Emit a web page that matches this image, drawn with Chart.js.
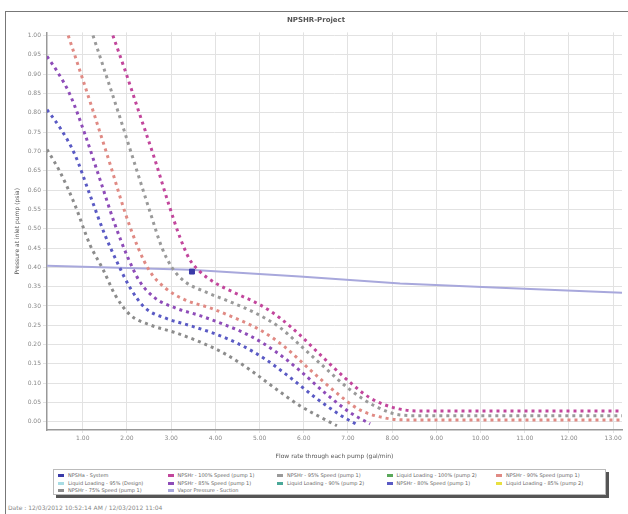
<!DOCTYPE html>
<html>
<head>
<meta charset="utf-8">
<title>NPSHR-Project</title>
<script src="https://cdn.jsdelivr.net/npm/chart.js@4/dist/chart.umd.min.js"></script>
<style>
  body { margin: 0; background: #fff; font-family: "DejaVu Sans", sans-serif; }
  #wrap { position: relative; width: 628px; height: 514px; overflow: hidden; }
  #frame { position: absolute; left: 5px; top: 11px; width: 700px; height: 600px; border-left: 1px solid #777; border-top: 1px solid #777; }
  #c { position: absolute; left: 0; top: 0; }
  #legend { position: absolute; left: 53px; top: 469px; width: 544px; height: 22px; padding: 2px 3px 0 4px;
    border: 1px solid #bbb; box-shadow: 3px 3px 0 #555; background: #fff;
    display: grid; grid-template-columns: repeat(5, 109.5px); grid-auto-rows: 7.5px; }
  #legend div { white-space: nowrap; overflow: hidden; font-size: 5px; line-height: 7.5px; color: #666; }
  #legend span { display: inline-block; width: 6px; height: 3px; margin-right: 4px; vertical-align: middle; }
  #footer { position: absolute; left: 8px; top: 504px; font-size: 6px; color: #888; white-space: nowrap; }
</style>
</head>
<body>
<div id="wrap">
  <div id="frame"></div>
  <canvas id="c" width="628" height="460"></canvas>
  <div id="legend"></div>
  <div id="footer">Date : 12/03/2012 10:52:14 AM / 12/03/2012 11:04</div>
</div>
<script>
const titleText = 'NPSHR-Project';
const xTitle = 'Flow rate through each pump (gal/min)';
const yTitle = 'Pressure at inlet pump (psia)';

const xTickValues = [1, 2, 3, 4, 5, 6, 7, 8, 9, 10, 11, 12, 13];
const xTickLabels = ['1.00', '2.00', '3.00', '4.00', '5.00', '6.00', '7.00', '8.00', '9.00', '10.00', '11.00', '12.00', '13.00'];
const yTickValues = [0, 0.05, 0.1, 0.15, 0.2, 0.25, 0.3, 0.35, 0.4, 0.45, 0.5, 0.55, 0.6, 0.65, 0.7, 0.75, 0.8, 0.85, 0.9, 0.95, 1.0];
const yTickLabels = ['0.00', '0.05', '0.10', '0.15', '0.20', '0.25', '0.30', '0.35', '0.40', '0.45', '0.50', '0.55', '0.60', '0.65', '0.70', '0.75', '0.80', '0.85', '0.90', '0.95', '1.00'];

const seriesNames = [
  'NPSHa - System',
  'NPSHr - 100% Speed (pump 1)',
  'NPSHr - 95% Speed (pump 1)',
  'Liquid Loading - 100% (pump 2)',
  'NPSHr - 90% Speed (pump 1)',
  'Liquid Loading - 95% (Design)',
  'NPSHr - 85% Speed (pump 1)',
  'Liquid Loading - 90% (pump 2)',
  'NPSHr - 80% Speed (pump 1)',
  'Liquid Loading - 85% (pump 2)',
  'NPSHr - 75% Speed (pump 1)',
  'Vapor Pressure - Suction'
];

// operating point
const opX = [3.47];
const opY = [0.389];

const magentaX = [1.68, 1.95, 2.29, 2.63, 2.97, 3.20, 3.42, 3.65, 3.99, 4.44, 5.01, 5.46, 5.91, 6.37, 6.93, 7.50, 8.06, 8.63, 13.2];
const magentaY = [1.0, 0.912, 0.795, 0.679, 0.554, 0.477, 0.420, 0.389, 0.360, 0.334, 0.303, 0.269, 0.225, 0.174, 0.114, 0.062, 0.036, 0.028, 0.028];

const gray2X = [1.23, 1.50, 1.84, 2.18, 2.52, 2.79, 3.02, 3.31, 3.76, 4.33, 4.90, 5.46, 5.91, 6.48, 7.05, 7.61, 8.18, 8.63, 13.2];
const gray2Y = [1.0, 0.907, 0.788, 0.666, 0.544, 0.451, 0.399, 0.363, 0.337, 0.311, 0.282, 0.244, 0.199, 0.140, 0.083, 0.041, 0.018, 0.016, 0.016];

const salmonX = [0.67, 0.94, 1.28, 1.62, 1.95, 2.25, 2.52, 2.86, 3.31, 3.88, 4.44, 5.01, 5.57, 6.14, 6.71, 7.27, 7.84, 8.40, 13.2];
const salmonY = [1.0, 0.907, 0.788, 0.666, 0.544, 0.451, 0.389, 0.347, 0.316, 0.295, 0.269, 0.238, 0.194, 0.135, 0.078, 0.031, 0.010, 0.005, 0.005];

const purpleX = [0.19, 0.42, 0.71, 1.05, 1.39, 1.73, 2.02, 2.29, 2.63, 3.09, 3.65, 4.22, 4.78, 5.35, 5.91, 6.48, 7.05, 7.50];
const purpleY = [0.946, 0.907, 0.847, 0.744, 0.627, 0.510, 0.425, 0.363, 0.321, 0.295, 0.275, 0.251, 0.223, 0.183, 0.133, 0.075, 0.024, -0.005];

const blueX = [0.19, 0.48, 0.82, 1.16, 1.50, 1.77, 2.07, 2.41, 2.86, 3.43, 3.99, 4.56, 5.12, 5.69, 6.25, 6.82, 7.25];
const blueY = [0.808, 0.762, 0.692, 0.588, 0.484, 0.415, 0.347, 0.295, 0.269, 0.249, 0.228, 0.200, 0.163, 0.115, 0.064, 0.018, -0.01];

const gray1X = [0.19, 0.48, 0.82, 1.16, 1.46, 1.73, 2.07, 2.52, 3.09, 3.65, 4.22, 4.78, 5.35, 5.91, 6.48, 6.75];
const gray1Y = [0.705, 0.648, 0.562, 0.459, 0.394, 0.329, 0.277, 0.251, 0.231, 0.207, 0.176, 0.135, 0.087, 0.042, 0.006, -0.01];

const vaporX = [0.19, 3.43, 5.91, 8.18, 10.44, 13.2];
const vaporY = [0.404, 0.394, 0.376, 0.358, 0.347, 0.334];

const colors = ['#3a3aa8', '#c2469c', '#9a9a9a', '#5aa85a', '#e08a84', '#a8dce4',
  '#8e4cb8', '#4aa898', '#5a5ac4', '#e8e040', '#8c8c8c', '#a8a8dc'];

function pts(xs, ys) { return xs.map((x, i) => ({ x, y: ys[i] })); }

function curve(i, xs, ys) {
  return {
    label: seriesNames[i], data: pts(xs, ys), borderColor: colors[i], backgroundColor: colors[i],
    borderWidth: 3, borderDash: [3, 4], pointRadius: 0, cubicInterpolationMode: 'monotone'
  };
}
function empty(i) {
  return { label: seriesNames[i], data: [], borderColor: colors[i], backgroundColor: colors[i] };
}

const datasets = [
  { label: seriesNames[0], data: pts(opX, opY), borderColor: colors[0], backgroundColor: colors[0],
    showLine: false, pointStyle: 'rect', pointRadius: 3.5, order: -1 },
  curve(1, magentaX, magentaY),
  curve(2, gray2X, gray2Y),
  empty(3),
  curve(4, salmonX, salmonY),
  empty(5),
  curve(6, purpleX, purpleY),
  empty(7),
  curve(8, blueX, blueY),
  empty(9),
  curve(10, gray1X, gray1Y),
  { label: seriesNames[11], data: pts(vaporX, vaporY), borderColor: colors[11], backgroundColor: colors[11],
    borderWidth: 2, pointRadius: 0, tension: 0 }
];

const tickFont = { size: 6, family: 'DejaVu Sans' };

const chart = new Chart(document.getElementById('c'), {
  type: 'line',
  data: { datasets },
  options: {
    responsive: false,
    animation: false,
    layout: { padding: { left: 10, right: 6, top: 0, bottom: 0 } },
    plugins: {
      legend: { display: false },
      tooltip: { enabled: false },
      title: { display: true, text: titleText, color: '#555', font: { size: 7, weight: 'bold', family: 'DejaVu Sans' }, padding: { top: 16, bottom: 8 } }
    },
    scales: {
      x: {
        type: 'linear', min: 0.19, max: 13.2,
        afterBuildTicks: s => { s.ticks = xTickValues.map(v => ({ value: v })); },
        afterFit: s => { s.height = 30; },
        ticks: { color: '#888', font: tickFont, padding: 2, maxRotation: 0, autoSkip: false,
          callback: (v, i) => xTickLabels[i] },
        grid: { color: '#e2e2e2', tickLength: 3 },
        border: { color: '#999', width: 1.5 },
        title: { display: true, text: xTitle, color: '#555', font: { size: 6, family: 'DejaVu Sans' }, padding: { top: 1, bottom: 0 } }
      },
      y: {
        type: 'linear', min: -0.021, max: 1.008,
        afterBuildTicks: s => { s.ticks = yTickValues.map(v => ({ value: v })); },
        afterFit: s => { s.width = 37; },
        ticks: { color: '#888', font: tickFont, padding: 2, autoSkip: false,
          callback: (v, i) => yTickLabels[i] },
        grid: { color: '#e2e2e2', tickLength: 4 },
        border: { color: '#999', width: 1.5 },
        title: { display: true, text: yTitle, color: '#555', font: { size: 6, family: 'DejaVu Sans' }, padding: { top: 4, bottom: 2 } }
      }
    }
  }
});

// html legend, row by row, 5 columns
const legendEl = document.getElementById('legend');
chart.data.datasets.forEach(ds => {
  const d = document.createElement('div');
  d.innerHTML = `<span style="background:${ds.borderColor}"></span>${ds.label}`;
  legendEl.appendChild(d);
});
</script>
</body>
</html>
